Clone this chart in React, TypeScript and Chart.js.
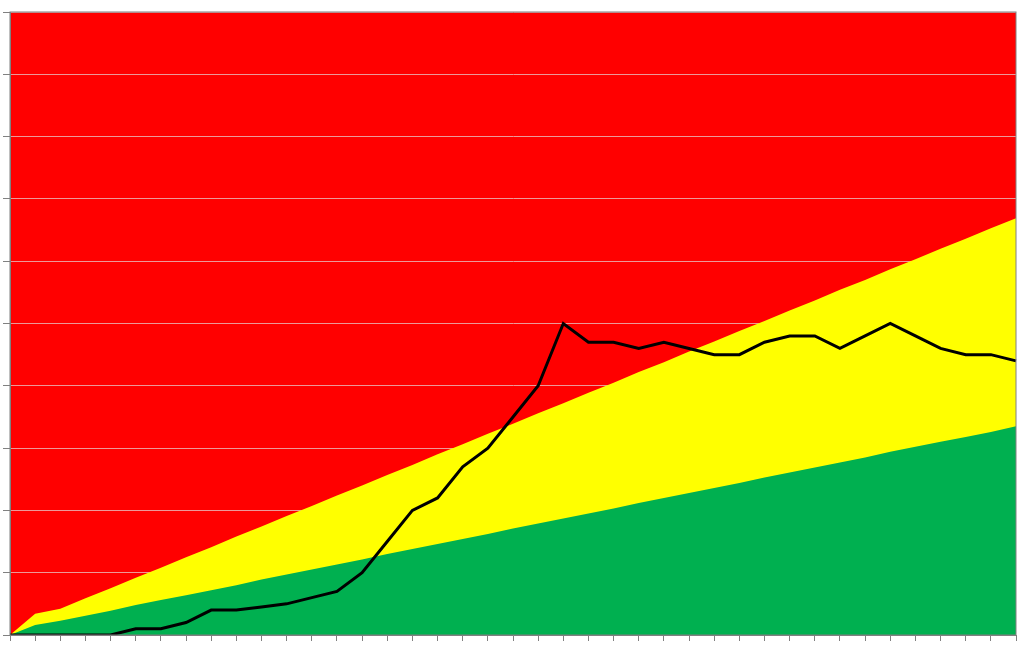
import React, { useEffect, useRef } from 'react';
import Chart from 'chart.js/auto';

// 41 periods along the x axis (no labels shown in the original)
const periods = [
  '1', '2', '3', '4', '5', '6', '7', '8', '9', '10',
  '11', '12', '13', '14', '15', '16', '17', '18', '19', '20',
  '21', '22', '23', '24', '25', '26', '27', '28', '29', '30',
  '31', '32', '33', '34', '35', '36', '37', '38', '39', '40', '41',
];

// actual progress (black line)
const actual = [
  0, 0, 0, 0, 0, 1, 1, 2, 4, 4,
  4.5, 5, 6, 7, 10, 15, 20, 22, 27, 30,
  35, 40, 50, 47, 47, 46, 47, 46, 45, 45,
  47, 48, 48, 46, 48, 50, 48, 46, 45, 45, 44,
];

// upper edge of the yellow band
const yellowBand = [
  0, 3.4, 4.2, 5.9, 7.5, 9.2, 10.8, 12.5, 14.1, 15.8,
  17.4, 19.1, 20.7, 22.4, 24.0, 25.7, 27.3, 29.0, 30.6, 32.3,
  33.9, 35.6, 37.2, 38.9, 40.5, 42.2, 43.8, 45.5, 47.1, 48.8,
  50.4, 52.1, 53.7, 55.4, 57.0, 58.7, 60.3, 62.0, 63.6, 65.3, 66.9,
];

// upper edge of the green band
const greenBand = [
  0, 1.6, 2.3, 3.1, 3.9, 4.8, 5.6, 6.4, 7.2, 8.0,
  8.9, 9.7, 10.5, 11.3, 12.1, 13.0, 13.8, 14.6, 15.4, 16.2,
  17.1, 17.9, 18.7, 19.5, 20.3, 21.2, 22.0, 22.8, 23.6, 24.4,
  25.3, 26.1, 26.9, 27.7, 28.5, 29.4, 30.2, 31.0, 31.8, 32.6, 33.5,
];

const yTicks = [0, 10, 20, 30, 40, 50, 60, 70, 80, 90, 100];

const RED = '#FF0000';
const YELLOW = '#FFFF00';
const GREEN = '#00B050';
const AXIS_GREY = '#808080';

// red plot area behind the grid lines, grey frame on top
const plotFrame = {
  id: 'plotFrame',
  beforeDraw(chart: Chart) {
    const { ctx, chartArea } = chart;
    ctx.save();
    ctx.fillStyle = RED;
    ctx.fillRect(chartArea.left, chartArea.top, chartArea.right - chartArea.left, chartArea.bottom - chartArea.top);
    ctx.restore();
  },
  afterDraw(chart: Chart) {
    const { ctx, chartArea } = chart;
    ctx.save();
    ctx.strokeStyle = AXIS_GREY;
    ctx.lineWidth = 1;
    ctx.strokeRect(chartArea.left, chartArea.top, chartArea.right - chartArea.left, chartArea.bottom - chartArea.top);
    ctx.restore();
  },
};

const ProgressChart: React.FC = () => {
  const canvasRef = useRef<HTMLCanvasElement>(null);
  const chartInstance = useRef<Chart | null>(null);

  useEffect(() => {
    if (!canvasRef.current) return;
    if (chartInstance.current) chartInstance.current.destroy();

    chartInstance.current = new Chart(canvasRef.current, {
      type: 'line',
      data: {
        labels: periods,
        datasets: [
          {
            label: 'Actual',
            data: actual,
            borderColor: '#000000',
            borderWidth: 3,
            pointRadius: 0,
            tension: 0,
            fill: false,
            order: 0,
          },
          {
            label: 'Green',
            data: greenBand,
            borderWidth: 0,
            borderColor: GREEN,
            backgroundColor: GREEN,
            pointRadius: 0,
            tension: 0,
            fill: 'origin',
            order: 1,
          },
          {
            label: 'Yellow',
            data: yellowBand,
            borderWidth: 0,
            borderColor: YELLOW,
            backgroundColor: YELLOW,
            pointRadius: 0,
            tension: 0,
            fill: 'origin',
            order: 2,
          },
        ],
      },
      options: {
        responsive: true,
        maintainAspectRatio: false,
        animation: false,
        layout: { padding: { left: 3, top: 12, right: 8, bottom: 4 } },
        plugins: {
          legend: { display: false },
          tooltip: { enabled: false },
        },
        scales: {
          x: {
            type: 'category',
            offset: false,
            grid: {
              drawOnChartArea: false,
              tickLength: 6,
              tickColor: AXIS_GREY,
            },
            border: { color: AXIS_GREY },
            ticks: { display: false, autoSkip: false },
          },
          y: {
            min: yTicks[0],
            max: yTicks[yTicks.length - 1],
            afterBuildTicks: (scale) => {
              scale.ticks = yTicks.map(v => ({ value: v }));
            },
            grid: {
              color: 'rgba(235, 170, 170, 0.9)',
              lineWidth: 1,
              tickLength: 7,
              tickColor: AXIS_GREY,
            },
            border: { color: AXIS_GREY },
            ticks: { display: false },
          },
        },
      },
      plugins: [plotFrame],
    });

    return () => {
      if (chartInstance.current) {
        chartInstance.current.destroy();
        chartInstance.current = null;
      }
    };
  }, []);

  return (
    <div style={{ position: 'absolute', left: 0, top: 0, width: 1024, height: 645, background: '#ffffff' }}>
      <canvas ref={canvasRef} />
    </div>
  );
};

export default function App() {
  return <ProgressChart />;
}
